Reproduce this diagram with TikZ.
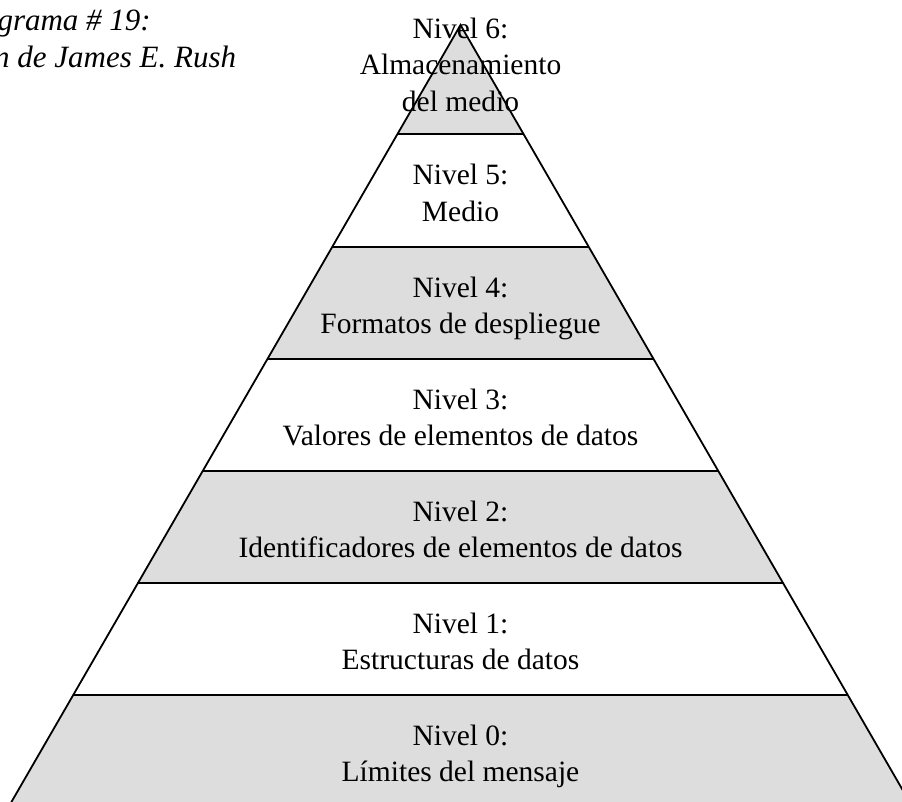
\documentclass[tikz,border=0pt]{standalone}
\usepackage{fontspec}
\setmainfont{Liberation Serif}
\begin{document}
\begin{tikzpicture}[x=1pt,y=-1pt,
    band/.style={fill=bandgray},
    edge/.style={line width=1.8pt,line join=miter},
    levellabel/.style={anchor=base,align=center,inner sep=0pt,
      font=\fontsize{29.5}{36.5}\selectfont},
    caption/.style={inner sep=0pt,
      font=\fontsize{31}{36.5}\selectfont\itshape}]
  \definecolor{bandgray}{HTML}{DDDDDD}
  \useasboundingbox (0,0) rectangle (902,801);
  \clip (0,0) rectangle (902,801);

  % pyramid corners
  \coordinate (apex) at (460.5,25);
  \coordinate (bl) at (8.5,807);
  \coordinate (br) at (912.5,807);

  % shaded bands and level boundaries, kept inside the pyramid
  \begin{scope}
    \clip (apex) -- (bl) -- (br) -- cycle;
    \fill[band] (0,20) rectangle (902,134);
    \fill[band] (0,247) rectangle (902,359);
    \fill[band] (0,471) rectangle (902,583);
    \fill[band] (0,695) rectangle (902,810);
    \foreach \yy in {134,247,359,471,583,695}
      \draw[edge] (0,\yy) -- (902,\yy);
  \end{scope}
  \draw[edge] (bl) -- (apex) -- (br);

  % level labels (positioned by the baseline of their last line)
  \node[levellabel] (l6) at (460.5,111) {Nivel 6:\\Almacenamiento\\del medio};
  \node[levellabel] (l5) at (460.5,221) {Nivel 5:\\Medio};
  \node[levellabel] (l4) at (460.5,333.5) {Nivel 4:\\Formatos de despliegue};
  \node[levellabel] (l3) at (460.5,445.5) {Nivel 3:\\Valores de elementos de datos};
  \node[levellabel] (l2) at (460.5,557.5) {Nivel 2:\\Identificadores de elementos de datos};
  \node[levellabel] (l1) at (460.5,669.5) {Nivel 1:\\Estructuras de datos};
  \node[levellabel] (l0) at (460.5,781.5) {Nivel 0:\\Límites del mensaje};

  % caption at the top left, running off the left edge
  \node[caption,anchor=base east] (cap1) at (151,30) {grama \# 19:};
  \node[caption,anchor=base west] (cap2) at (-6,67) {n de James E. Rush};
\end{tikzpicture}
\end{document}
